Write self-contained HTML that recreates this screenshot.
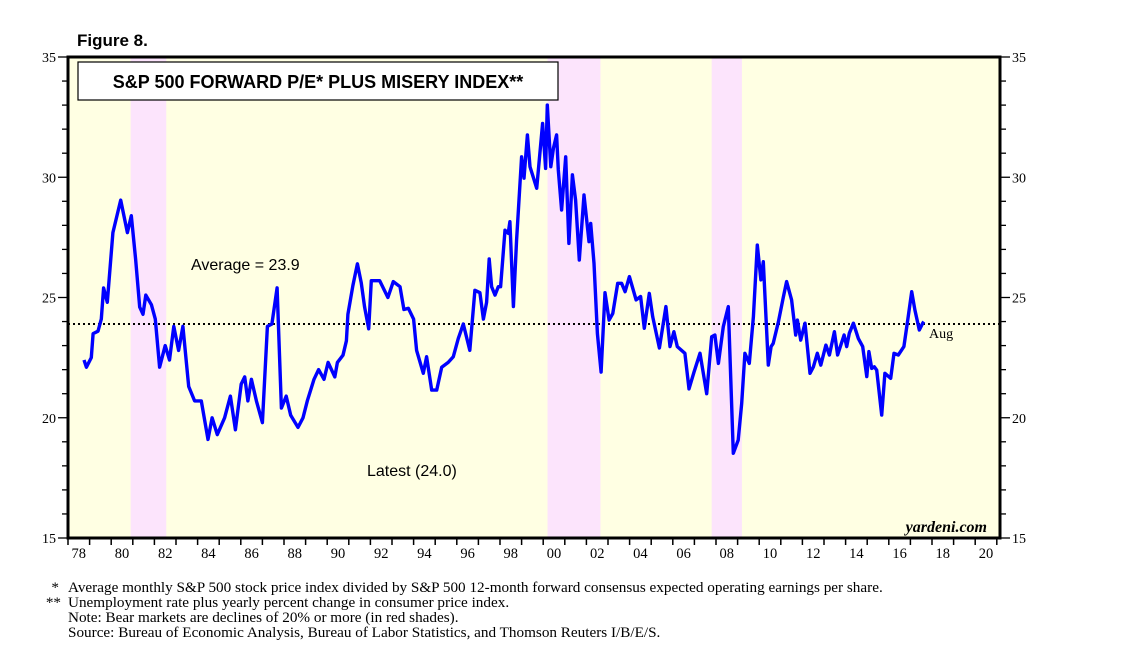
<!DOCTYPE html>
<html><head><meta charset="utf-8">
<style>
body{margin:0;background:#fff;width:1138px;height:657px;overflow:hidden;}
svg{display:block;}
.serif{font-family:"Liberation Serif",serif;}
.sans{font-family:"Liberation Sans",sans-serif;}
</style></head>
<body>
<svg id="chart" width="1138" height="657" xmlns="http://www.w3.org/2000/svg">
<text x="77" y="46" class="sans" font-size="17" font-weight="bold">Figure 8.</text>
<g id="bg"></g>
<g id="grid"></g>
<g id="series"></g>
<g id="axes"></g>
<rect x="78" y="62" width="480" height="38" fill="#fff" stroke="#000" stroke-width="1.2"/>
<text x="318" y="88" text-anchor="middle" class="sans" font-size="18" font-weight="bold">S&amp;P 500 FORWARD P/E* PLUS MISERY INDEX**</text>
<text x="191" y="270" class="sans" font-size="16">Average = 23.9</text>
<text x="367" y="476" class="sans" font-size="16">Latest (24.0)</text>
<text x="929" y="338" class="serif" font-size="14">Aug</text>
<text x="987" y="532" text-anchor="end" class="serif" font-size="16" font-weight="bold" font-style="italic">yardeni.com</text>
<g class="serif" font-size="15.2">
<text x="59" y="592" text-anchor="end">*</text><text x="68" y="592">Average monthly S&amp;P 500 stock price index divided by S&amp;P 500 12-month forward consensus expected operating earnings per share.</text>
<text x="61" y="607" text-anchor="end">**</text><text x="68" y="607">Unemployment rate plus yearly percent change in consumer price index.</text>
<text x="68" y="622">Note: Bear markets are declines of 20% or more (in red shades).</text>
<text x="68" y="637">Source: Bureau of Economic Analysis, Bureau of Labor Statistics, and Thomson Reuters I/B/E/S.</text>
</g>
</svg>
<script>
const dates=[1978.74,1978.85,1979.08,1979.16,1979.39,1979.54,1979.65,1979.82,1980.08,1980.44,1980.75,1980.93,1981.13,1981.32,1981.47,1981.6,1981.86,1982.04,1982.24,1982.5,1982.7,1982.9,1983.12,1983.32,1983.59,1983.86,1984.17,1984.48,1984.67,1984.91,1985.25,1985.52,1985.75,1986.02,1986.18,1986.33,1986.49,1986.72,1987.0,1987.23,1987.44,1987.68,1987.88,1988.1,1988.31,1988.65,1988.88,1989.08,1989.39,1989.6,1989.85,1990.04,1990.35,1990.47,1990.73,1990.89,1990.96,1991.19,1991.4,1991.58,1991.73,1991.92,1992.04,1992.43,1992.81,1993.06,1993.37,1993.55,1993.76,1994.0,1994.14,1994.45,1994.6,1994.84,1995.07,1995.3,1995.6,1995.84,1996.07,1996.3,1996.6,1996.84,1997.07,1997.23,1997.38,1997.5,1997.61,1997.77,1997.92,1998.03,1998.23,1998.38,1998.46,1998.62,1998.77,1999.0,1999.11,1999.27,1999.39,1999.7,1999.97,2000.11,2000.19,2000.35,2000.47,2000.62,2000.7,2000.85,2001.04,2001.19,2001.35,2001.5,2001.67,2001.89,2002.12,2002.2,2002.35,2002.51,2002.68,2002.86,2003.05,2003.22,2003.45,2003.63,2003.79,2003.99,2004.3,2004.51,2004.68,2004.91,2005.07,2005.38,2005.68,2005.87,2006.05,2006.21,2006.56,2006.75,2006.98,2007.26,2007.57,2007.8,2007.95,2008.11,2008.34,2008.57,2008.8,2009.03,2009.19,2009.34,2009.54,2009.73,2009.91,2010.08,2010.19,2010.42,2010.55,2010.65,2010.89,2011.12,2011.27,2011.5,2011.69,2011.77,2011.92,2012.12,2012.35,2012.51,2012.69,2012.85,2013.09,2013.25,2013.48,2013.63,2013.93,2014.05,2014.17,2014.36,2014.59,2014.79,2014.98,2015.08,2015.21,2015.33,2015.44,2015.67,2015.82,2016.09,2016.24,2016.44,2016.7,2016.9,2017.06,2017.21,2017.41,2017.57,2017.62];
const values=[22.4,22.1,22.5,23.5,23.6,24.1,25.4,24.8,27.7,29.05,27.7,28.4,26.6,24.6,24.3,25.1,24.7,24.1,22.1,23.0,22.4,23.8,22.8,23.8,21.3,20.7,20.7,19.1,20.0,19.3,20.0,20.9,19.5,21.4,21.7,20.7,21.6,20.7,19.8,23.8,23.9,25.4,20.4,20.9,20.1,19.6,20.0,20.7,21.6,22.0,21.6,22.3,21.7,22.3,22.6,23.2,24.3,25.5,26.4,25.6,24.6,23.7,25.7,25.7,25.0,25.66,25.45,24.5,24.55,24.1,22.8,21.85,22.54,21.15,21.15,22.1,22.3,22.54,23.3,23.9,22.8,25.3,25.2,24.1,24.8,26.6,25.45,25.1,25.45,25.45,27.8,27.67,28.15,24.62,27.4,30.85,29.96,31.76,30.44,29.54,32.24,30.37,33.0,30.44,31.2,31.76,30.3,28.64,30.85,27.25,30.1,29.05,26.56,29.26,27.32,28.08,26.42,23.5,21.9,25.2,24.06,24.34,25.59,25.59,25.24,25.87,24.9,25.04,23.72,25.17,24.2,22.9,24.62,22.96,23.58,22.96,22.68,21.2,21.9,22.68,21.0,23.37,23.44,22.26,23.79,24.62,18.52,19.07,20.6,22.68,22.26,24.2,27.18,25.73,26.49,22.19,22.96,23.09,23.99,25.03,25.66,24.9,23.44,24.06,23.23,23.93,21.85,22.12,22.68,22.19,23.02,22.61,23.58,22.61,23.44,22.96,23.51,23.93,23.3,22.96,21.71,22.75,22.05,22.12,21.98,20.11,21.85,21.64,22.68,22.61,22.96,24.2,25.24,24.48,23.65,23.93,24.0];
const bearStart=[1980.9,2000.2,2007.8];
const bearEnd=[1982.55,2002.65,2009.2];
const average=23.9;
const yTicks=[15,20,25,30,35];
const xLabels=["78","80","82","84","86","88","90","92","94","96","98","00","02","04","06","08","10","12","14","16","18","20"];

const L=68,R=1000,T=57,B=538,Y0=1978,PX=21.6,VMIN=15,VMAX=35;
const xs=y=>L+(y-Y0)*PX;
const ys=v=>B-(v-VMIN)*(B-T)/(VMAX-VMIN);
const NS="http://www.w3.org/2000/svg";
function mk(tag,attrs,parent){const e=document.createElementNS(NS,tag);for(const k in attrs)e.setAttribute(k,attrs[k]);parent.appendChild(e);return e;}
const bg=document.getElementById('bg'),grid=document.getElementById('grid'),ser=document.getElementById('series'),ax=document.getElementById('axes');
let r=mk('rect',{x:L,y:T,width:R-L,height:B-T,fill:'#ffffe3'},bg);


bearStart.forEach((s,i)=>{
  const b=mk('rect',{x:xs(s),y:T,width:xs(bearEnd[i])-xs(s),height:B-T,fill:'#fce4fc'},bg);
  
  
});
let avg=mk('line',{x1:L,x2:R,y1:ys(average),y2:ys(average),stroke:'#000','stroke-width':2,'stroke-dasharray':'2,3'},grid);


let d=dates.map((t,i)=>(i?'L':'M')+xs(t).toFixed(1)+','+ys(values[i]).toFixed(1)).join('');
let p=mk('path',{d:d,fill:'none',stroke:'#0000ff','stroke-width':3.4,'stroke-linejoin':'round'},ser);


let fr=mk('rect',{x:L,y:T,width:R-L,height:B-T,fill:'none',stroke:'#000','stroke-width':3},ax);


for(let v=VMIN;v<=VMAX;v++){
  const y=ys(v),maj=v%5===0;
  mk('line',{x1:L-(maj?10:6),x2:L,y1:y,y2:y,stroke:'#000','stroke-width':1.3},ax);
  mk('line',{x1:R,x2:R+(maj?10:6),y1:y,y2:y,stroke:'#000','stroke-width':1.3},ax);
}
yTicks.forEach(v=>{
  const a=mk('text',{x:L-12,y:ys(v)+5,'text-anchor':'end',class:'serif','font-size':14},ax);a.textContent=v;
  
  
  const b=mk('text',{x:R+12,y:ys(v)+5,class:'serif','font-size':14},ax);b.textContent=v;
  
  
});
for(let yr=Y0;yr<=2021;yr++){mk('line',{x1:xs(yr),x2:xs(yr),y1:B,y2:B+7,stroke:'#000','stroke-width':1.5},ax);}
xLabels.forEach((s,i)=>{
  const t=mk('text',{x:xs(Y0+2*i+0.5),y:B+20,'text-anchor':'middle',class:'serif','font-size':14.5},ax);t.textContent=s;
  
  
});
</script>
</body></html>
